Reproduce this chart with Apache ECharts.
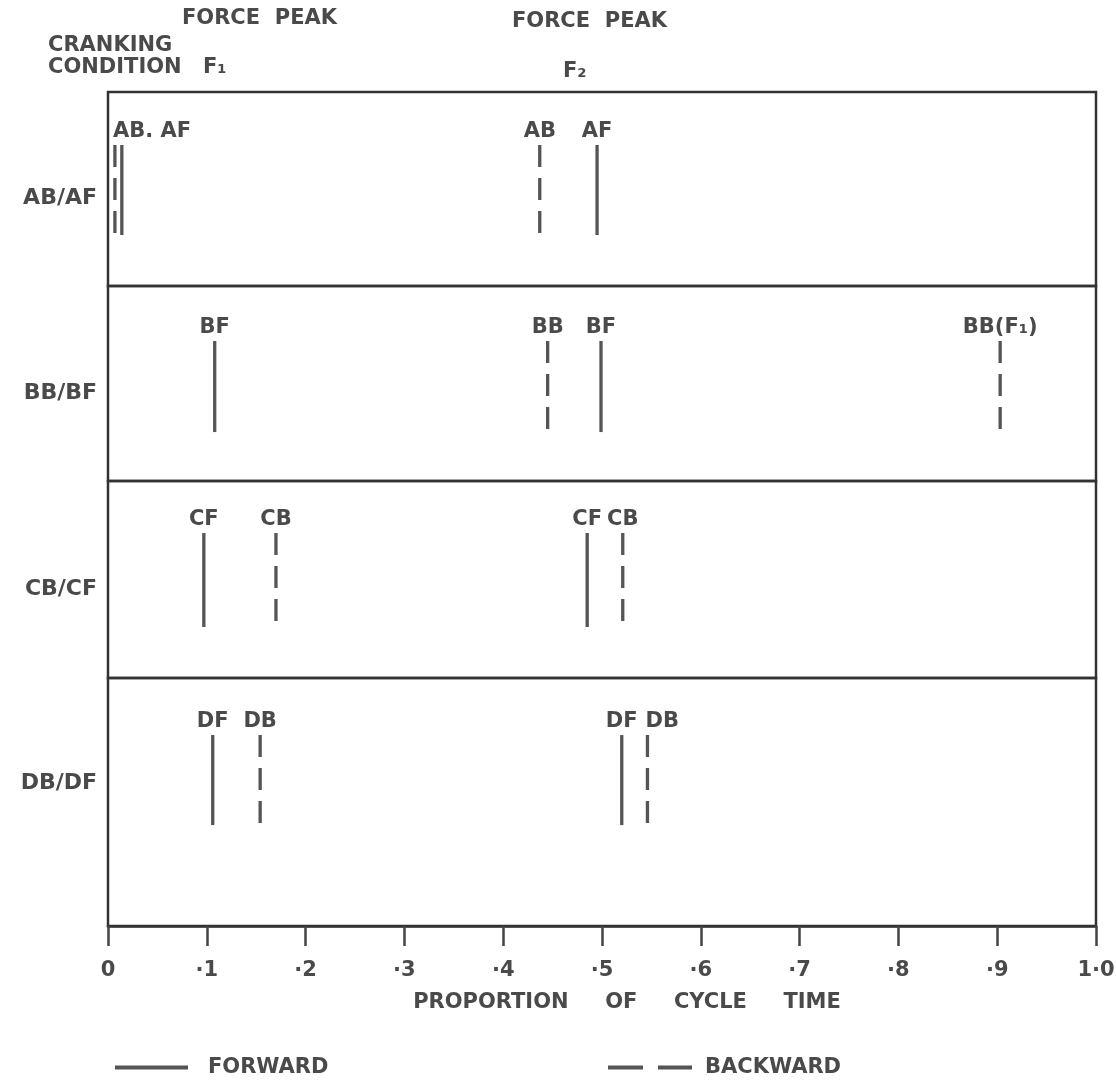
<!DOCTYPE html>
<html><head><meta charset="utf-8">
<script src="https://cdn.jsdelivr.net/npm/echarts@6/dist/echarts.min.js"></script>
<style>html,body{margin:0;padding:0;background:#fff}#c{width:1116px;height:1085px}</style>
</head><body><div id="c"></div>
<script>
// ---- data ----
const rowLabels = ['AB/AF', 'BB/BF', 'CB/CF', 'DB/DF'];
const forwardX = [[0.014, 0.495], [0.108, 0.499], [0.097, 0.485], [0.106, 0.520]];
const forwardTags = [['', 'AF'], ['BF', 'BF'], ['CF', 'CF'], ['DF', 'DF']];
const backwardX = [[0.007, 0.437], [0.445, 0.903], [0.170, 0.521], [0.154, 0.546]];
const backwardTags = [['AB. AF', 'AB'], ['BB', 'BB(F\u2081)'], ['CB', 'CB'], ['DB', 'DB']];
const tickLabels = ['0', '\u00b71', '\u00b72', '\u00b73', '\u00b74', '\u00b75', '\u00b76', '\u00b77', '\u00b78', '\u00b79', '1\u00b70'];

// ---- layout / style ----
const FF = '"DejaVu Sans"';
const FS = 21;
const FONT = 'bold ' + FS + 'px ' + FF;
const INK = '#4a4a4a';
const MARK = '#555555';
const FRAME = '#333333';
const rowBox = [{ top: 92, height: 194 }, { top: 286, height: 195 }, { top: 481, height: 197 }, { top: 678, height: 248 }];
const rowSpan = [[0.263, 0.727], [0.251, 0.718], [0.259, 0.736], [0.407, 0.770]];
const rowLabelAt = [0.45, 0.45, 0.45, 0.577];
const leftTag = { '0-0': true, '3-1': true };

const grids = rowBox.map(b => ({
  left: 108, width: 988, top: b.top, height: b.height,
  outerBoundsMode: 'none', containLabel: false,
  show: true, borderColor: FRAME, borderWidth: 2.5, backgroundColor: 'transparent'
}));

const xAxes = rowBox.map((b, r) => {
  const last = r === rowBox.length - 1;
  return {
    type: 'value', gridIndex: r, min: 0, max: 1, interval: 0.1,
    show: last,
    splitLine: { show: false },
    axisLine: { show: true, lineStyle: { color: FRAME, width: 2.5 } },
    axisTick: { show: true, inside: false, length: 20, lineStyle: { color: '#444', width: 2.5 } },
    axisLabel: {
      margin: 34, color: INK, fontFamily: FF, fontSize: FS, fontWeight: 'bold',
      formatter: v => tickLabels[Math.round(v * 10)]
    },
    name: last ? 'PROPORTION     OF     CYCLE     TIME' : '',
    nameLocation: 'middle', nameGap: 66,
    nameTextStyle: { color: INK, fontFamily: FF, fontSize: FS, fontWeight: 'bold', padding: [0, 0, 0, 50] }
  };
});

const yAxes = rowBox.map((b, r) => ({
  type: 'value', gridIndex: r, min: 0, max: 1,
  axisLine: { show: false }, axisTick: { show: false }, splitLine: { show: false },
  axisLabel: {
    show: true, customValues: [rowLabelAt[r]], margin: 11,
    color: INK, fontFamily: FF, fontSize: 22, fontWeight: 'bold',
    formatter: () => rowLabels[r]
  }
}));

function makeSeries(name, xs, tags, dashed, r) {
  return {
    type: 'custom', name: name, xAxisIndex: r, yAxisIndex: r,
    itemStyle: { color: MARK },
    encode: { x: 0, y: 1 },
    data: xs.map(v => [v, 0.5]),
    renderItem: function (params, api) {
      const x = api.value(0);
      const lo = rowSpan[r][0], hi = rowSpan[r][1];
      const p1 = api.coord([x, hi]);
      const p2 = api.coord([x, lo]);
      const tag = tags[params.dataIndex];
      const left = dashed && leftTag[r + '-' + params.dataIndex];
      return {
        type: 'group', children: [
          { type: 'line', shape: { x1: p1[0], y1: p1[1], x2: p2[0], y2: p2[1] },
            style: { stroke: MARK, lineWidth: 3.3, lineDash: dashed ? [22, 11] : null } },
          { type: 'text', x: left ? p1[0] - 2 : p1[0], y: p1[1] - 3,
            style: { text: tag, font: FONT, fill: INK, align: left ? 'left' : 'center', verticalAlign: 'bottom' } }
        ]
      };
    }
  };
}

const series = [];
rowBox.forEach((b, r) => {
  series.push(makeSeries('FORWARD', forwardX[r], forwardTags[r], false, r));
  series.push(makeSeries('BACKWARD', backwardX[r], backwardTags[r], true, r));
});

const legendText = { color: INK, fontFamily: FF, fontSize: FS, fontWeight: 'bold' };

const option = {
  backgroundColor: '#ffffff',
  animation: false,
  grid: grids,
  xAxis: xAxes,
  yAxis: yAxes,
  series: series,
  legend: [
    { left: 115, top: 1057, padding: 0, itemWidth: 73, itemHeight: 4, selectedMode: false,
      data: [{ name: 'FORWARD', icon: 'path://M0,0H73V4H0Z' }],
      textStyle: Object.assign({}, legendText, { padding: [0, 0, 0, 15] }) },
    { left: 608, top: 1057, padding: 0, itemWidth: 84, itemHeight: 4, selectedMode: false,
      data: [{ name: 'BACKWARD', icon: 'path://M0,0H35V4H0ZM50,0H84V4H50Z' }],
      textStyle: Object.assign({}, legendText, { padding: [0, 0, 0, 8] }) }
  ],
  graphic: [
    { type: 'text', x: 182, y: 19, style: { text: 'FORCE  PEAK', font: FONT, fill: INK, verticalAlign: 'middle' } },
    { type: 'text', x: 48, y: 46, style: { text: 'CRANKING', font: FONT, fill: INK, verticalAlign: 'middle' } },
    { type: 'text', x: 48, y: 68, style: { text: 'CONDITION', font: FONT, fill: INK, verticalAlign: 'middle' } },
    { type: 'text', x: 203, y: 68, style: { text: 'F\u2081', font: FONT, fill: INK, verticalAlign: 'middle' } },
    { type: 'text', x: 512, y: 22, style: { text: 'FORCE  PEAK', font: FONT, fill: INK, verticalAlign: 'middle' } },
    { type: 'text', x: 563, y: 72, style: { text: 'F\u2082', font: FONT, fill: INK, verticalAlign: 'middle' } }
  ]
};

const chart = echarts.init(document.getElementById('c'), null, { renderer: 'canvas' });
chart.setOption(option);
</script>
</body></html>
